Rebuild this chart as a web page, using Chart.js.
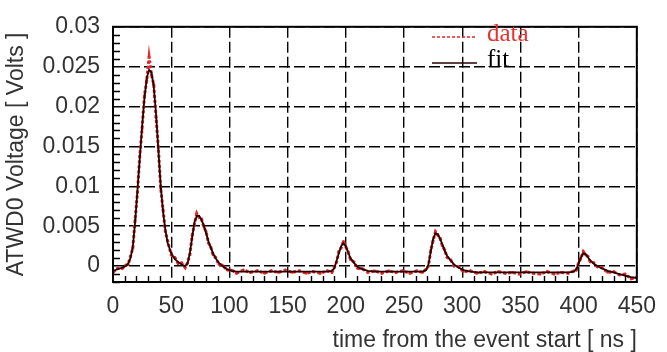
<!DOCTYPE html>
<html>
<head>
<meta charset="utf-8">
<script src="https://cdn.jsdelivr.net/npm/chart.js@4/dist/chart.umd.min.js"></script>
<style>
  html, body { margin: 0; padding: 0; background: #fff; }
  canvas { display: block; }
</style>
</head>
<body>
<canvas id="atwdChart" width="667" height="352"></canvas>
<script>
// ATWD0 waveform: sample times (ns), measured voltage and fitted pulse shape (V)
const times = [
  0, 4, 8, 11, 13, 15, 17, 19, 21, 23, 25, 27, 29, 31, 33, 35, 37, 39, 41, 43,
  45, 47, 50, 53, 56, 59, 62, 64, 66, 68, 70, 72, 74, 76, 78, 80, 82, 84, 86, 88,
  91, 94, 98, 102, 106, 112, 118, 124, 130, 136, 142, 148, 154, 160, 166, 172, 178, 184, 188, 190,
  192, 194, 196, 198, 200, 202, 204, 207, 210, 214, 219, 225, 231, 237, 243, 249, 255, 261, 266, 269,
  271, 273, 275, 277, 279, 281, 283, 285, 287, 290, 293, 297, 301, 307, 313, 319, 325, 331, 337, 343,
  349, 355, 361, 367, 373, 379, 385, 391, 396, 398, 400, 402, 404, 406, 408, 410, 413, 416, 420, 425,
  430, 435, 440, 445, 450
];

const dataVolts = [
  -0.0008, -0.0003, -0.0003, 0.0001, 0.0002, 0.0012, 0.0022, 0.0058, 0.0092, 0.0138, 0.0172, 0.0214, 0.0233, 0.0262, 0.0240, 0.0228, 0.0186, 0.0148, 0.0097, 0.0071,
  0.0043, 0.0031, 0.0014, 0.0011, 0.0003, 0.0004, -0.0002, 0.0004, 0.0014, 0.0038, 0.0053, 0.0066, 0.0061, 0.0059, 0.0049, 0.0043, 0.0029, 0.0024, 0.0014, 0.0011,
  0.0002, 0.0001, -0.0005, -0.0005, -0.0009, -0.0005, -0.0008, -0.0006, -0.0009, -0.0006, -0.0008, -0.0005, -0.0008, -0.0006, -0.0009, -0.0007, -0.0009, -0.0006, -0.0008, -0.0002,
  0.0005, 0.0018, 0.0023, 0.0031, 0.0024, 0.0018, 0.0008, 0.0005, -0.0003, -0.0003, -0.0008, -0.0006, -0.0009, -0.0006, -0.0008, -0.0006, -0.0009, -0.0006, -0.0008, -0.0004,
  0.0000, 0.0020, 0.0032, 0.0043, 0.0039, 0.0035, 0.0025, 0.0020, 0.0011, 0.0008, 0.0000, -0.0001, -0.0007, -0.0006, -0.0009, -0.0007, -0.0010, -0.0007, -0.0009, -0.0008,
  -0.0010, -0.0007, -0.0009, -0.0010, -0.0007, -0.0010, -0.0008, -0.0009, -0.0006, -0.0005, 0.0004, 0.0010, 0.0018, 0.0014, 0.0012, 0.0005, 0.0004, -0.0001, -0.0002, -0.0008,
  -0.0007, -0.0011, -0.0010, -0.0016, -0.0014
];

const fitVolts = [
  -0.0006, -0.0004, -0.0002, 0.0000, 0.0003, 0.0010, 0.0024, 0.0055, 0.0095, 0.0135, 0.0175, 0.0210, 0.0236, 0.0246, 0.0243, 0.0225, 0.0190, 0.0145, 0.0100, 0.0068,
  0.0045, 0.0029, 0.0016, 0.0009, 0.0005, 0.0002, 0.0000, 0.0003, 0.0016, 0.0036, 0.0055, 0.0063, 0.0063, 0.0058, 0.0051, 0.0041, 0.0031, 0.0023, 0.0016, 0.0010,
  0.0004, 0.0000, -0.0004, -0.0006, -0.0007, -0.0007, -0.0007, -0.0007, -0.0007, -0.0007, -0.0007, -0.0007, -0.0007, -0.0007, -0.0007, -0.0007, -0.0007, -0.0007, -0.0006, -0.0003,
  0.0006, 0.0016, 0.0025, 0.0029, 0.0025, 0.0017, 0.0010, 0.0004, -0.0001, -0.0004, -0.0006, -0.0007, -0.0007, -0.0007, -0.0007, -0.0007, -0.0007, -0.0007, -0.0007, -0.0005,
  0.0002, 0.0018, 0.0034, 0.0041, 0.0040, 0.0034, 0.0027, 0.0019, 0.0013, 0.0007, 0.0002, -0.0002, -0.0005, -0.0007, -0.0008, -0.0008, -0.0008, -0.0008, -0.0008, -0.0008,
  -0.0008, -0.0008, -0.0008, -0.0008, -0.0008, -0.0008, -0.0008, -0.0008, -0.0007, -0.0004, 0.0003, 0.0011, 0.0016, 0.0015, 0.0011, 0.0007, 0.0003, 0.0000, -0.0003, -0.0006,
  -0.0008, -0.0010, -0.0012, -0.0014, -0.0015
];

const yTicks = [0, 0.005, 0.01, 0.015, 0.02, 0.025, 0.03];

const tickFont = { family: 'Liberation Sans', size: 23 };
const titleFont = { family: 'Liberation Sans', size: 23, lineHeight: 1 };

// minor tick marks: every 10 ns on x, every 1 mV on y
const minorX = [];
for (let t = 10; t < 450; t += 10) if (t % 50 !== 0) minorX.push(t);
const minorY = [];
for (let k = -2; k < 30; k++) if (k % 5 !== 0) minorY.push(k / 1000);

// frame box, inward minor ticks and the little serif legend in the top right
const frameAndLegend = {
  id: 'frameAndLegend',
  afterDatasetsDraw(chart) {
    const { ctx, chartArea: a, scales: { x, y } } = chart;
    ctx.save();
    ctx.strokeStyle = '#000';
    ctx.lineWidth = 1.4;
    ctx.beginPath();
    minorX.forEach(v => {
      const px = Math.round(x.getPixelForValue(v)) + 0.5;
      ctx.moveTo(px, a.bottom);
      ctx.lineTo(px, a.bottom - 6);
    });
    minorY.forEach(v => {
      const py = Math.round(y.getPixelForValue(v)) + 0.5;
      ctx.moveTo(a.left, py);
      ctx.lineTo(a.left + 7, py);
    });
    ctx.stroke();

    ctx.lineWidth = 2;
    ctx.strokeRect(a.left, a.top, a.right - a.left, a.bottom - a.top);

    // legend entries
    const sets = chart.data.datasets;
    const rows = [sets[1], sets[0]];
    const x0 = 432, x1 = 477, tx = 487;
    const rowY = [37, 63];
    ctx.font = '25px "Liberation Serif"';
    ctx.textBaseline = 'alphabetic';
    rows.forEach((ds, i) => {
      ctx.strokeStyle = ds.borderColor;
      ctx.lineWidth = 1.6;
      ctx.setLineDash(ds.borderDash || []);
      ctx.beginPath();
      ctx.moveTo(x0, rowY[i]);
      ctx.lineTo(x1, rowY[i]);
      ctx.stroke();
      ctx.setLineDash([]);
      ctx.fillStyle = ds.legendTextColor;
      ctx.fillText(ds.label, tx, rowY[i] + 4);
    });
    ctx.restore();
  }
};

const toPoints = vals => times.map((t, i) => ({ x: t, y: vals[i] }));

new Chart(document.getElementById('atwdChart'), {
  type: 'scatter',
  data: {
    datasets: [
      {
        label: 'fit',
        data: toPoints(fitVolts),
        showLine: true,
        borderColor: 'rgb(40, 0, 0)',
        legendTextColor: '#000',
        borderWidth: 1.8,
        pointRadius: 0,
        order: 0
      },
      {
        label: 'data',
        data: toPoints(dataVolts),
        showLine: true,
        borderColor: 'rgb(225, 40, 40)',
        legendTextColor: 'rgb(230, 50, 50)',
        borderDash: [3, 2],
        borderWidth: 3,
        pointRadius: 1.4,
        pointBackgroundColor: 'rgb(225, 40, 40)',
        pointBorderWidth: 0,
        order: 1
      }
    ]
  },
  options: {
    responsive: false,
    animation: false,
    layout: { padding: { left: 0, top: 13, right: 21, bottom: 0 } },
    plugins: {
      legend: { display: false },
      tooltip: { enabled: false }
    },
    scales: {
      x: {
        type: 'linear',
        min: 0,
        max: 450,
        ticks: { stepSize: 50, color: '#333', font: tickFont, padding: 11, maxRotation: 0 },
        grid: { color: '#000', lineWidth: 1.4, drawTicks: false },
        border: { color: '#000', width: 2, dash: [11, 4] },
        title: {
          display: true,
          text: 'time from the event start [ ns ]',
          align: 'end',
          color: '#333',
          font: titleFont,
          padding: { top: 0, bottom: 0 }
        },
        afterFit(scale) { scale.height = 70; }
      },
      y: {
        min: -0.002,
        max: 0.03,
        afterBuildTicks(scale) { scale.ticks = yTicks.map(value => ({ value })); },
        ticks: { color: '#333', font: tickFont, padding: 13, callback: v => String(+v.toFixed(3)) },
        grid: { color: '#000', lineWidth: 1.4, drawTicks: false },
        border: { color: '#000', width: 2, dash: [11, 4] },
        title: {
          display: true,
          text: 'ATWD0 Voltage [ Volts ]',
          color: '#333',
          font: titleFont,
          padding: { top: 5, bottom: 0 }
        },
        afterFit(scale) { scale.width = 113; }
      }
    }
  },
  plugins: [frameAndLegend]
});
</script>
</body>
</html>
